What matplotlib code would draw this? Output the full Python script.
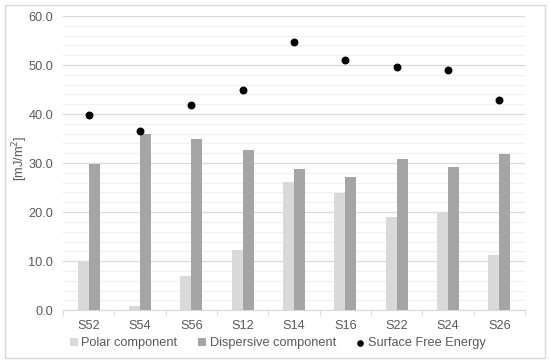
import numpy as np
import matplotlib
matplotlib.use("Agg")
import matplotlib.pyplot as plt
from matplotlib.patches import Rectangle
from matplotlib.ticker import MultipleLocator, FixedLocator

plt.rcParams['font.family'] = ['Liberation Sans', 'DejaVu Sans']

# data
samples = ["S52", "S54", "S56", "S12", "S14", "S16", "S22", "S24", "S26"]
polar = [10.0, 0.8, 7.0, 12.3, 26.2, 23.8, 18.9, 20.0, 11.2]
dispersive = [29.8, 35.9, 34.9, 32.7, 28.7, 27.2, 30.8, 29.2, 31.8]
sfe = [39.8, 36.6, 41.8, 45.0, 54.8, 51.0, 49.7, 49.0, 42.8]

txt = "#595959"
fs = 9.2
fig = plt.figure(figsize=(5.5, 3.64), dpi=100)
fig.patches.append(Rectangle((0.009, 0.016), 0.982, 0.97, transform=fig.transFigure,
                             fill=False, edgecolor="#d9d9d9", linewidth=1.0))
ax = fig.add_axes([0.1145, 0.148, 0.84, 0.808])

x = np.arange(len(samples))
w = 0.215
b1 = ax.bar(x - w / 2, polar, w, color="#d9d9d9", label="Polar component", zorder=3)
b2 = ax.bar(x + w / 2, dispersive, w, color="#a5a5a5", label="Dispersive component", zorder=3)
sc = ax.scatter(x, sfe, s=22, color="black", label="Surface Free Energy", zorder=4)

ax.set_xlim(-0.5, len(samples) - 0.5)
ax.set_ylim(0, 60)
ax.yaxis.set_major_locator(MultipleLocator(10))
ax.yaxis.set_minor_locator(MultipleLocator(2))
ax.set_yticklabels([f"{v:.1f}" for v in ax.get_yticks()])
ax.grid(axis="y", which="major", color="#d9d9d9", linewidth=0.9, zorder=0)
ax.grid(axis="y", which="minor", color="#f0f0f0", linewidth=0.8, zorder=0)
ax.tick_params(axis="y", which="both", length=0, labelsize=fs, labelcolor=txt, pad=7)

ax.set_xticks(x)
ax.set_xticklabels(samples)
ax.xaxis.set_minor_locator(FixedLocator(np.arange(-0.5, len(samples), 1)))
ax.tick_params(axis="x", which="major", length=0, labelsize=fs, labelcolor=txt, pad=7)
ax.tick_params(axis="x", which="minor", length=4, color="#d9d9d9")

for s in ["top", "right", "left"]:
    ax.spines[s].set_visible(False)
ax.spines["bottom"].set_color("#d9d9d9")

ax.set_ylabel("[mJ/m$^2$]", fontsize=fs, color=txt)
ax.yaxis.set_label_coords(-0.071, 0.515)

leg = fig.legend([b1, b2, sc], ["Polar component", "Dispersive component", "Surface Free Energy"],
                 loc="center", bbox_to_anchor=(0.505, 0.057), ncol=3, frameon=False,
                 fontsize=fs, handlelength=0.6, handleheight=0.6, handletextpad=0.3,
                 columnspacing=1.6, markerscale=0.8)
for t in leg.get_texts():
    t.set_color(txt)

fig.savefig("out.png", dpi=100)
